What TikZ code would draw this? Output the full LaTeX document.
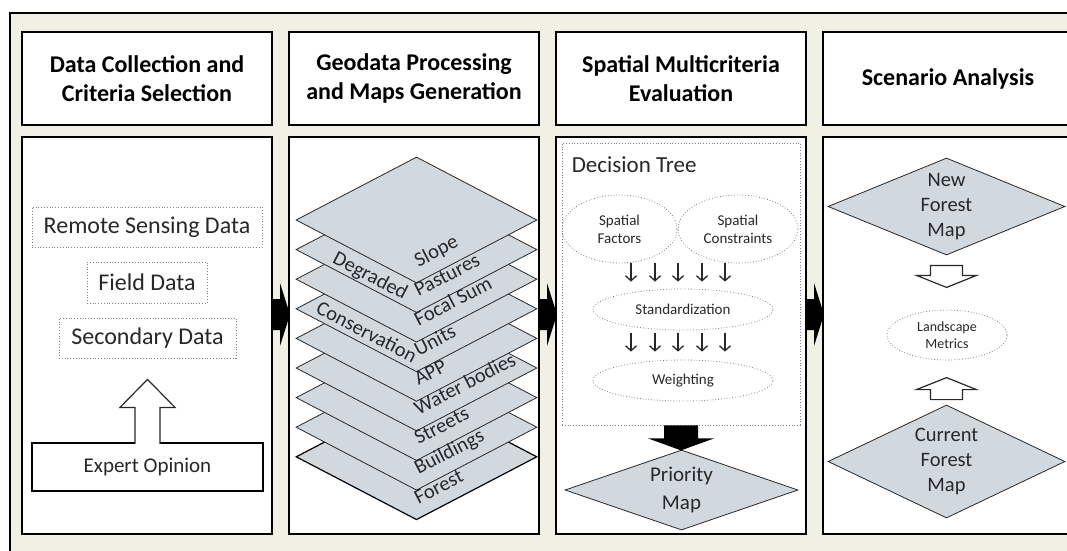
\documentclass[tikz,border=0pt]{standalone}
\usepackage{fontspec}
\setmainfont{Carlito}
\usetikzlibrary{shapes.geometric,arrows.meta}

\definecolor{paper}{RGB}{240,240,229}
\definecolor{layergray}{RGB}{210,217,222}
\definecolor{inkgray}{RGB}{40,40,40}

\begin{document}
\begin{tikzpicture}[x=1pt,y=-1pt,
    panel/.style={draw,line width=1.6pt,fill=white,minimum width=250pt},
    head/.style={panel,minimum height=93pt,align=center,font=\fontsize{24}{29}\selectfont\bfseries},
    source/.style={draw=gray,dotted,line width=0.8pt,inner sep=0pt,text=inkgray,font=\fontsize{24}{28}\selectfont},
    layer/.style={diamond,draw=inkgray,line width=0.8pt,fill=layergray,inner sep=0pt,minimum width=241pt,minimum height=126pt},
    layertext/.style={text=inkgray,inner sep=0pt,font=\fontsize{20.5}{24}\selectfont},
    map/.style={diamond,draw=inkgray,line width=0.8pt,fill=layergray,inner sep=0pt,align=center,text=inkgray},
    cloud/.style={ellipse,draw=gray,dotted,line width=0.8pt,inner sep=0pt,align=center,text=inkgray,font=\fontsize{15}{18}\selectfont},
    flow/.style={draw=inkgray,line width=1.3pt,-{Straight Barb[length=5pt,width=11pt]}},
    hollow/.style={draw=inkgray,line width=1.2pt,fill=white}]
\useasboundingbox (0,0) rectangle (1067,550);

% frame
\draw[line width=1.6pt,fill=paper] (10,13) rectangle (1090,575);

% column heads
\node[head] (h1) at (147,78.5) {Data Collection and\\Criteria Selection};
\node[head] (h2) at (414,78.5) {Geodata Processing\\and Maps Generation};
\node[head] (h3) at (681,78.5) {Spatial Multicriteria\\Evaluation};
\node[head] (h4) at (948,78.5) {Scenario Analysis};

% column bodies
\node[panel,minimum height=397pt] (p1) at (147,335.5) {};
\node[panel,minimum height=397pt] (p2) at (414,335.5) {};
\node[panel,minimum height=397pt] (p3) at (681,335.5) {};
\node[panel,minimum height=397pt] (p4) at (948,335.5) {};

% black arrows between the columns
\foreach \a/\b in {p1/p2,p2/p3,p3/p4}
    \fill ([shift={(0,-36.5)}]\a.east) -- ++(7.2,0) -- ++(0,-16) -- ++(10,31.5)
        -- ++(-10,31.5) -- ++(0,-16) -- ++(-7.2,0) -- cycle;

% data sources
\node[source,minimum width=230pt,minimum height=40pt] (remote) at (147,227) {Remote Sensing Data};
\node[source,minimum width=120pt,minimum height=41pt] (field) at (147,282.5) {Field Data};
\node[source,minimum width=177pt,minimum height=40pt] (second) at (147.5,338) {Secondary Data};
\node[draw,line width=1.2pt,minimum width=231pt,minimum height=48pt,text=inkgray,
    font=\fontsize{21}{24}\selectfont] (expert) at (147.5,467) {Expert Opinion};
\filldraw[hollow] ([shift={(-12.5,1.5)}]expert.north) -- ++(0,-36.5) -- ++(-15,0) -- ++(27.5,-28)
    -- ++(27.5,28) -- ++(-15,0) -- ++(0,36.5);

% map layers, lowest first
\node[layer,draw=black,line width=1.2pt] (l9) at (416.5,456.8) {};
\node[layer] (l8) at (416.5,427.2) {};
\node[layer] (l7) at (416.5,397.6) {};
\node[layer] (l6) at (416.5,368) {};
\node[layer] (l5) at (416.5,338.4) {};
\node[layer] (l4) at (416.5,308.8) {};
\node[layer] (l3) at (416.5,279.2) {};
\node[layer] (l2) at (416.5,249.6) {};
\node[layer] (l1) at (416.5,220) {};
\node[layertext,rotate=27.3,anchor=base west] at ([shift={(2,-16)}]l1.south) {Slope};
\node[layertext,rotate=27.3,anchor=base west] at ([shift={(2,-16)}]l2.south) {Pastures};
\node[layertext,rotate=-27.3,anchor=base east] at ([shift={(-13,-13)}]l2.south) {Degraded};
\node[layertext,rotate=27.3,anchor=base west] at ([shift={(2,-16)}]l3.south) {Focal Sum};
\node[layertext,rotate=27.3,anchor=base west] at ([shift={(2,-16)}]l4.south) {Units};
\node[layertext,rotate=-27.3,anchor=base east] at ([shift={(-4,-9)}]l4.south) {Conservation};
\node[layertext,rotate=27.3,anchor=base west] at ([shift={(2,-16)}]l5.south) {APP};
\node[layertext,rotate=27.3,anchor=base west] at ([shift={(2,-16)}]l6.south) {Water bodies};
\node[layertext,rotate=27.3,anchor=base west] at ([shift={(2,-16)}]l7.south) {Streets};
\node[layertext,rotate=27.3,anchor=base west] at ([shift={(2,-16)}]l8.south) {Buildings};
\node[layertext,rotate=27.3,anchor=base west] at ([shift={(2,-16)}]l9.south) {Forest};

% decision tree
\node[draw=gray,dotted,line width=0.8pt,minimum width=238pt,minimum height=282pt] (tree) at (681,284) {};
\node[anchor=west,inner sep=0pt,text=inkgray,font=\fontsize{23}{26}\selectfont] (dt)
    at ([shift={(10,22)}]tree.north west) {Decision Tree};
\node[cloud,minimum width=115pt,minimum height=68pt] (factors) at (619.5,229) {Spatial\\Factors};
\node[cloud,minimum width=120pt,minimum height=68pt] (limits) at (738,229) {Spatial\\Constraints};
\node[cloud,minimum width=180pt,minimum height=41pt] (standard) at (683,309.5) {Standardization};
\node[cloud,minimum width=180pt,minimum height=41pt] (weight) at (683,380.5) {Weighting};
\foreach \dx in {-52,-28,-5,19,42} {
    \draw[flow] ([shift={(\dx,-26)}]standard.north) -- ([shift={(\dx,-7)}]standard.north);
    \draw[flow] ([shift={(\dx,3)}]standard.south) -- ([shift={(\dx,-8)}]weight.north);
}
\node[map,shape aspect=2.9,minimum width=233pt,minimum height=80pt,
    font=\fontsize{21}{28}\selectfont] (prio) at (681.5,490) {Priority\\Map};
\fill ([xshift=-17pt]tree.south) -- ++(0,13) -- ++(-16,0) -- ++(33,12) -- ++(33,-12)
    -- ++(-16,0) -- ++(0,-13) -- cycle;

% scenario analysis
\node[map,shape aspect=2.44,minimum width=237pt,minimum height=97pt,
    font=\fontsize{20.5}{25}\selectfont] (newmap) at (946.5,206.5) {New\\Forest\\Map};
\node[map,shape aspect=2.1,minimum width=237pt,minimum height=113pt,
    font=\fontsize{20.5}{25}\selectfont] (curmap) at (946.5,461.5) {Current\\Forest\\Map};
\node[cloud,minimum width=120pt,minimum height=50pt,font=\fontsize{14}{17}\selectfont] (metrics)
    at (947,335) {Landscape\\Metrics};
\draw[hollow] ([shift={(-16,10)}]newmap.south) -- ++(0,10) -- ++(-14,0) -- ++(30,12)
    -- ++(30,-12) -- ++(-14,0) -- ++(0,-10) -- cycle;
\draw[hollow] ([shift={(-16,-5)}]curmap.north) -- ++(0,-10) -- ++(-14,0) -- ++(30,-12)
    -- ++(30,12) -- ++(-14,0) -- ++(0,10) -- cycle;
\end{tikzpicture}
\end{document}
